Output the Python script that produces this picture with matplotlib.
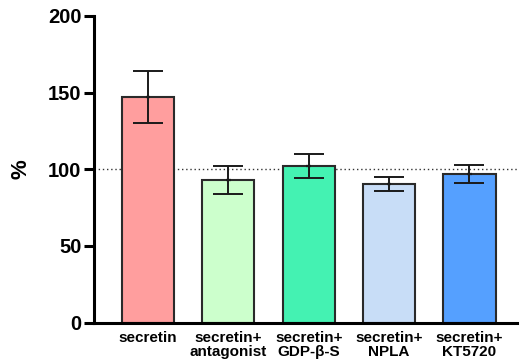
import matplotlib.pyplot as plt

plt.rcParams["font.family"] = ["Liberation Sans", "DejaVu Sans"]
plt.rcParams["font.weight"] = "bold"

groups = ["secretin", "secretin+\nantagonist", "secretin+\nGDP-β-S",
          "secretin+\nNPLA", "secretin+\nKT5720"]
means = [147, 93, 102, 90.5, 97]
errors = [17, 9, 8, 4.5, 6]
colors = ["#FF9E9E", "#CCFFCC", "#44F2B2", "#C8DDF7", "#55A0FF"]

fig = plt.figure(figsize=(5.2, 3.6), dpi=100)
ax = fig.add_axes([0.181, 0.104, 0.813, 0.852])

x = range(len(groups))
ax.bar(x, means, width=0.65, color=colors, edgecolor="#2a2a2a", linewidth=1.5, zorder=2)
ax.errorbar(x, means, yerr=errors, fmt="none", ecolor="#1a1a1a",
            elinewidth=1.4, capsize=11, capthick=1.4, zorder=3)
# small mean marks on top of each bar
ax.errorbar(x, means, xerr=0.03, fmt="none", ecolor="#1a1a1a", elinewidth=1.6, zorder=3)

ax.axhline(100, color="#333333", linestyle=(0, (1, 2)), linewidth=1.0, zorder=1)

ax.set_xlim(-0.67, 4.59)
ax.set_ylim(0, 200)
ax.set_yticks([0, 50, 100, 150, 200])
ax.set_xticks(list(x))
ax.set_xticklabels(groups, fontsize=11, fontweight="bold", linespacing=1.0)
ax.tick_params(axis="x", length=0, pad=6)
ax.tick_params(axis="y", labelsize=14.5, width=2.2, length=7, pad=2)
for lab in ax.get_yticklabels():
    lab.set_fontweight("bold")

ax.set_ylabel("%", fontsize=16, fontweight="bold", labelpad=12)

for side in ["top", "right"]:
    ax.spines[side].set_visible(False)
for side in ["left", "bottom"]:
    ax.spines[side].set_linewidth(2.2)
ax.spines["left"].set_bounds(0, 200)

fig.savefig("out.png", dpi=100)
